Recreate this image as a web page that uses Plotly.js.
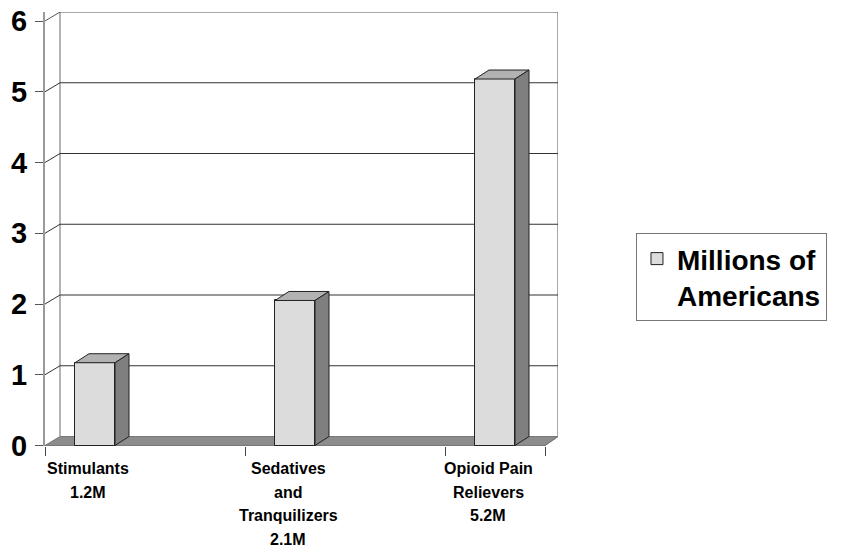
<!DOCTYPE html>
<html>
<head>
<meta charset="utf-8">
<script src="https://cdn.plot.ly/plotly-3.0.1.min.js"></script>
<style>html,body{margin:0;padding:0;background:#fff;}#chart{width:866px;height:556px;}</style>
</head>
<body>
<div id="chart"></div>
<script>
// ---- data ----
const categories = ['Stimulants', 'Sedatives and Tranquilizers', 'Opioid Pain Relievers'];
const labelLines = [['Stimulants', '1.2M'], ['Sedatives', 'and', 'Tranquilizers', '2.1M'], ['Opioid Pain', 'Relievers', '5.2M']];
const values = [1.17, 2.05, 5.18];
const yTicks = [0, 1, 2, 3, 4, 5, 6];
const seriesName = 'Millions of<br>Americans';

// ---- styling / geometry constants (pixel-based depth) ----
const PXX = 200, PXY = 70.75;           // px per unit on x and y
const DX = 14 / PXX, DY = 9 / PXY;      // oblique depth offset
const WALL_DX = 15 / PXX;
const BAR_W = 0.2;
const n = categories.length;
const xMin = -0.25, xFront = n - 1 + 0.25, xMax = xFront + 13 / PXX;
const yMax = yTicks[yTicks.length - 1];
const FONT = 'Liberation Sans, Arial, sans-serif';

const xs = categories.map((c, i) => i);

// top and side faces from the values
const topX = [], topY = [], sideX = [], sideY = [];
values.forEach((v, i) => {
  const l = xs[i] - BAR_W / 2, r = xs[i] + BAR_W / 2;
  topX.push(l, r, r + DX, l + DX, l, null);
  topY.push(v, v, v + DY, v + DY, v, null);
  sideX.push(r, r + DX, r + DX, r, r, null);
  sideY.push(0, DY, v + DY, v, 0, null);
});

const traces = [
  {
    type: 'bar', x: xs, y: values, width: BAR_W, name: seriesName,
    customdata: categories, textposition: 'none',
    hovertemplate: '%{customdata}: %{y}M<extra></extra>',
    marker: {color: '#dcdcdc', line: {color: '#222', width: 1}},
    showlegend: true
  },
  {
    type: 'scatter', mode: 'lines', x: topX, y: topY, fill: 'toself',
    fillcolor: '#b2b2b2', line: {color: '#222', width: 1}, hoverinfo: 'skip', showlegend: false
  },
  {
    type: 'scatter', mode: 'lines', x: sideX, y: sideY, fill: 'toself',
    fillcolor: '#7f7f7f', line: {color: '#222', width: 1}, hoverinfo: 'skip', showlegend: false
  }
];

// walls, gridlines and floor as shapes beneath the bars
const shapes = [];
shapes.push({
  type: 'path', layer: 'below', xref: 'x', yref: 'y',
  path: `M${xMin},0 L${xFront},0 L${xMax},${DY} L${xMin + WALL_DX},${DY} Z`,
  fillcolor: '#8c8c8c', line: {color: '#777', width: 1}
});
shapes.push({
  type: 'line', layer: 'below', xref: 'x', yref: 'y',
  x0: xMin + WALL_DX, x1: xMin + WALL_DX, y0: DY, y1: yMax + DY,
  line: {color: '#9a9a9a', width: 1.5}
});
shapes.push({
  type: 'line', layer: 'below', xref: 'x', yref: 'y',
  x0: xMax, x1: xMax, y0: DY, y1: yMax + DY,
  line: {color: '#a8a8a8', width: 2}
});
yTicks.filter(t => t > 0).forEach(t => {
  shapes.push({
    type: 'path', layer: 'below', xref: 'x', yref: 'y',
    path: `M${xMin},${t} L${xMin + WALL_DX},${t + DY} L${xMax},${t + DY}`,
    line: {color: t === yMax ? '#555' : '#333', width: 1}
  });
});
shapes.push({
  type: 'line', layer: 'below', xref: 'x', yref: 'y',
  x0: xFront, x1: xMax, y0: 0, y1: DY, line: {color: '#777', width: 1}
});

// category tick positions
const xTickVals = [];
xs.forEach(x => { xTickVals.push(x - 0.25); });
xTickVals.push(xs[n - 1] + 0.25);

// category labels as annotations, one per line
const annotations = [];
labelLines.forEach((lines, i) => {
  lines.forEach((txt, j) => {
    annotations.push({
      x: xs[i], xref: 'x', y: 0, yref: 'paper', xanchor: 'center', yanchor: 'top',
      xshift: -7, yshift: -12 - j * 23.7, showarrow: false, text: txt,
      font: {family: FONT, size: 16, weight: 'bold', color: '#000'}
    });
  });
});

const layout = {
  width: 866, height: 556,
  margin: {l: 45, r: 308, t: 12, b: 110, autoexpand: false},
  paper_bgcolor: '#fff', plot_bgcolor: '#fff',
  font: {family: FONT, color: '#000'},
  xaxis: {
    range: [xMin, xMax], showgrid: false, zeroline: false, showline: false,
    tickmode: 'array', tickvals: xTickVals, ticktext: xTickVals.map(() => ''),
    ticks: 'outside', ticklen: 9, tickcolor: '#444', tickwidth: 1, fixedrange: true
  },
  yaxis: {
    range: [-0.007, yMax + DY], showgrid: false, zeroline: false,
    showline: true, linecolor: '#9a9a9a', linewidth: 2,
    tickmode: 'array', tickvals: yTicks, ticks: 'outside', ticklen: 8,
    tickcolor: '#555', tickwidth: 1, ticklabelstandoff: 2,
    tickfont: {family: FONT, size: 29, weight: 'bold', color: '#000'}, fixedrange: true
  },
  showlegend: true,
  legend: {
    x: 1.152, y: 0.491, xanchor: 'left', yanchor: 'top', valign: 'top',
    bordercolor: '#777', borderwidth: 1, bgcolor: '#fff',
    font: {family: FONT, size: 28, weight: 'bold', color: '#000'}
  },
  shapes: shapes,
  annotations: annotations,
  bargap: 0
};

Plotly.newPlot('chart', traces, layout, {displayModeBar: false});
</script>
</body>
</html>
